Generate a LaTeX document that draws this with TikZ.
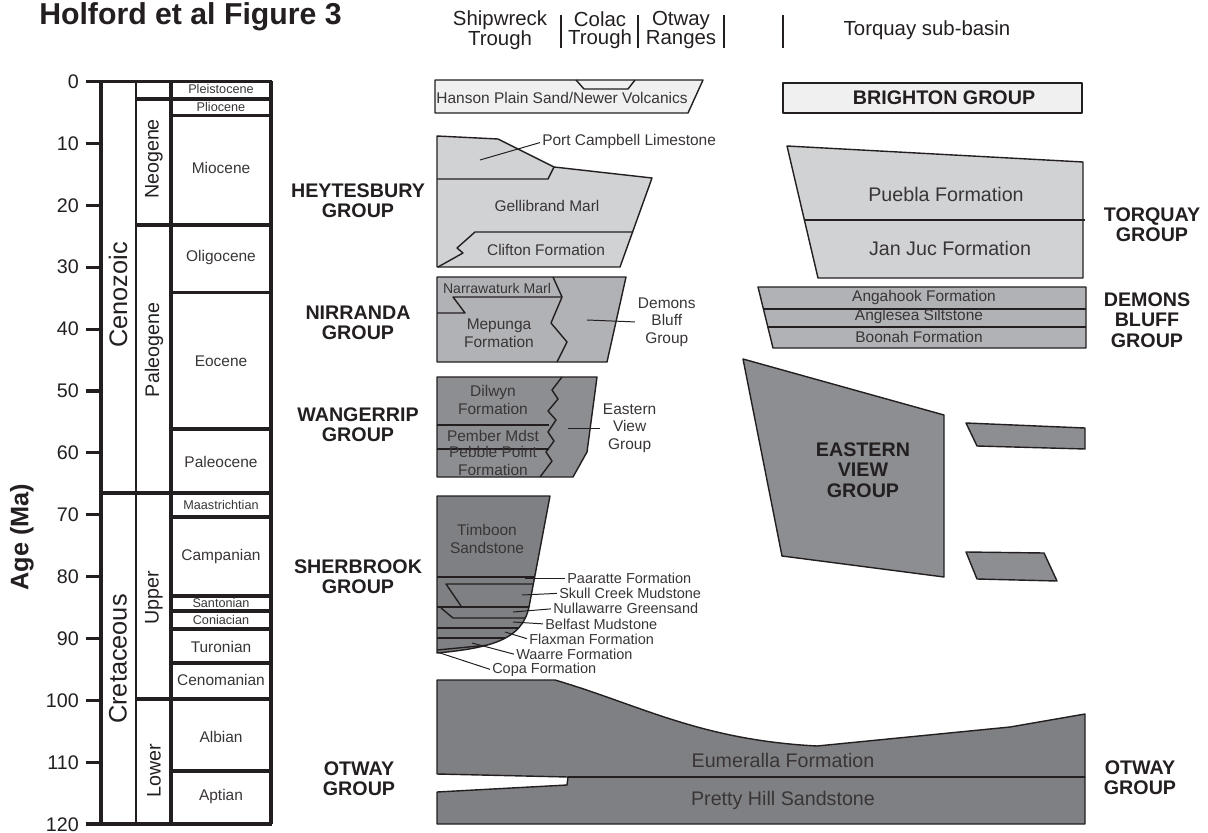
\documentclass[tikz,border=0pt]{standalone}
\usepackage{fontspec}
\setmainfont{Liberation Sans}
\definecolor{inkblack}{RGB}{35, 31, 32}
\definecolor{palegrey}{RGB}{240, 240, 240}
\definecolor{lightgrey}{RGB}{209, 210, 212}
\definecolor{midgrey}{RGB}{177, 178, 181}
\definecolor{darkgrey}{RGB}{141, 142, 145}
\definecolor{deepgrey}{RGB}{127, 128, 131}
\tikzset{
  unit/.style     = {line width=1pt, draw=inkblack, line join=round},
  sep/.style      = {line width=1.6pt, draw=inkblack},
  chart/.style    = {line width=2.2pt, draw=inkblack},
  leader/.style   = {line width=0.7pt, draw=inkblack, shorten >=1.5pt},
  bar/.style      = {line width=0.9pt, draw=inkblack},
  titletext/.style= {font=\bfseries\fontsize{21.5}{23}\selectfont, text=inkblack, inner sep=0pt},
  head/.style     = {font=\fontsize{14.5}{13}\selectfont, text=inkblack, align=center, inner sep=0pt},
  fm/.style       = {font=\fontsize{11}{12.5}\selectfont, text=inkblack!90, align=center, inner sep=0.5pt},
  sidefm/.style   = {font=\fontsize{10.3}{11}\selectfont, text=inkblack!90, anchor=west, inner sep=0pt},
  fmsmall/.style  = {font=\fontsize{9}{10}\selectfont, text=inkblack!90, inner sep=0pt},
  fmbig/.style    = {font=\fontsize{14}{15}\selectfont, text=inkblack!90, inner sep=0pt},
  grp/.style      = {font=\bfseries\fontsize{14}{14.5}\selectfont, text=inkblack, align=center, inner sep=0pt},
  agelbl/.style   = {font=\fontsize{14}{15}\selectfont, text=inkblack, anchor=east, inner sep=0pt},
  era/.style      = {font=\fontsize{18}{20}\selectfont, text=inkblack, rotate=90, inner sep=0pt},
  period/.style   = {font=\fontsize{14}{15}\selectfont, text=inkblack, rotate=90, inner sep=0pt},
  epoch/.style    = {font=\fontsize{11}{12}\selectfont, text=inkblack!90, inner sep=0pt},
}
\begin{document}
\begin{tikzpicture}[x=0.025cm, y=-0.025cm]
\useasboundingbox (0,0) rectangle (1208,833);

\node[titletext, anchor=base west] (title) at (39,25) {Holford et al Figure 3};
\node[head] (shipwreck) at (500,30) {Shipwreck\\Trough};
\node[head] (colac)     at (600,30) {Colac\\Trough};
\node[head] (otwayr)    at (681,30) {Otway\\Ranges};
\node[head] (torquay)   at (927,30) {Torquay sub-basin};
\foreach \x in {561,638,724,783}
  \draw[bar] (\x,15) -- (\x,48);

\draw[line width=3pt, draw=inkblack] (101,81) -- (101,825);
\draw[chart] (86,81.5) -- (272,81.5);
\draw[chart] (86,824) -- (272,824);
\draw[sep]   (136,81) -- (136,824);
\draw[chart] (171,81) -- (171,824);
\draw[chart] (271,81) -- (271,824);
\foreach \a in {10,20,...,110}
  \draw[chart] (86,{81.5+6.19*\a}) -- (101,{81.5+6.19*\a});
\foreach \a in {0,10,...,120}
  \node[agelbl] (age\a) at (79,{81.5+6.19*\a}) {\a};
\foreach \y in {115.5,292.5,429,517,596,611,629,663,771}
  \draw[chart] (171,\y) -- (271,\y);
\foreach \y in {99,225,699}
  \draw[chart] (136,\y) -- (271,\y);
\draw[chart] (101,493) -- (271,493);

\node[era]    (cenozoic)   at (118,295) {Cenozoic};
\node[era]    (cretaceous) at (118,659) {Cretaceous};
\node[period] (neogene)    at (154,159) {Neogene};
\node[period] (paleogene)  at (154,350) {Paleogene};
\node[period] (upper)      at (154,598) {Upper};
\node[period] (lower)      at (154,771) {Lower};
\foreach \y/\t in {89/Pleistocene,107/Pliocene,505/Maastrichtian,603/Santonian,620/Coniacian}
  \node[fmsmall] (ep-\t) at (221,\y) {\t};
\foreach \y/\t in {168/Miocene,258/Oligocene,361/Eocene,462/Paleocene,556/Campanian,647/Turonian,680/Cenomanian,737/Albian,796/Aptian}
  \node[epoch] (ep-\t) at (221,\y) {\t};
\node[font=\bfseries\fontsize{18}{20}\selectfont, text=inkblack, rotate=90, inner sep=0pt] (agetitle) at (22,537) {Age (Ma)};

\node[grp] (heytesbury) at (358,201) {HEYTESBURY\\GROUP};
\node[grp] (nirranda)   at (358,323) {NIRRANDA\\GROUP};
\node[grp] (wangerrip)  at (358,425) {WANGERRIP\\GROUP};
\node[grp] (sherbrook)  at (358,577) {SHERBROOK\\GROUP};
\node[grp] (otwayl)     at (359,779) {OTWAY\\GROUP};
\node[grp] (torquaygrp) at (1152,225) {TORQUAY\\GROUP};
\node[grp] (demonsgrp)  at (1147,320) {DEMONS\\BLUFF\\GROUP};
\node[grp] (otwayr2)    at (1140,778) {OTWAY\\GROUP};

\filldraw[unit, fill=palegrey] (435,80) -- (703,80) -- (688,113) -- (435,113) -- cycle;
\draw[unit] (576,80) -- (584,89) -- (628,89) -- (635,80);
\node[fm] (hanson) at (562,98) {Hanson Plain Sand/Newer Volcanics};

\filldraw[unit, fill=lightgrey] (437,136) -- (498,139) -- (554,167) -- (652,178) -- (620,267) -- (437,267) -- cycle;
\draw[unit] (437,179) -- (548,179) -- (554,167);
\draw[unit] (633,232) -- (475,232) -- (457,248) -- (463,253) -- (438,267);
\coordinate (pcin) at (480,160);
\node[sidefm, font=\fontsize{11}{12}\selectfont] (portcampbell) at (542,142) {Port Campbell Limestone};
\draw[leader] (pcin) -- (portcampbell.west);
\node[fm] (gellibrand) at (547,206) {Gellibrand Marl};
\node[fm] (clifton)    at (546,250) {Clifton Formation};

\filldraw[unit, fill=midgrey] (437,277) -- (626,277) -- (607,362) -- (437,362) -- cycle;
\draw[unit] (553,277) -- (562,297) -- (551,323) -- (567,342) -- (557,362);
\draw[unit] (562,297) -- (453,297) -- (465,313) -- (437,313);
\node[fm, font=\fontsize{10}{11}\selectfont] (narrawaturk) at (497,288) {Narrawaturk Marl};
\node[fm] (mepunga) at (499,333) {Mepunga\\Formation};
\coordinate (dbin) at (587,320);
\node[fm, anchor=west] (demons) at (637,322) {Demons\\Bluff\\Group};
\draw[leader] (dbin) -- (demons.west);

\filldraw[unit, fill=darkgrey] (437,377) -- (597,377) -- (587,452) -- (573,477) -- (437,477) -- cycle;
\draw[unit] (562,377) -- (552,390) -- (558,399) -- (548,411) -- (556,420) -- (548,432) -- (554,441) -- (546,452) -- (552,461) -- (540,477);
\draw[sep] (437,425) -- (549,425);
\draw[sep] (437,449) -- (549,449);
\node[fm] (dilwyn)  at (493,400) {Dilwyn\\Formation};
\node[fm] (pember)  at (493,436) {Pember Mdst};
\node[fm] (pebble)  at (493,461) {Pebble Point\\Formation};
\coordinate (evin) at (568,428);
\node[fm, anchor=west] (easternv) at (602,428) {Eastern\\View\\Group};
\draw[leader] (evin) -- (easternv.west);

\filldraw[unit, fill=deepgrey] (437,496) -- (550,496) -- (529,607) .. controls (522,640) and (490,648) .. (437,653) -- cycle;
\begin{scope}
  \clip (437,496) -- (550,496) -- (529,607) .. controls (522,640) and (490,648) .. (437,653) -- cycle;
  \draw[sep] (437,577) -- (560,577);
  \draw[unit] (461,606) -- (446,584) -- (560,584);
  \draw[sep] (437,607) -- (560,607);
  \draw[unit] (441,608) -- (453,618) -- (560,618);
  \draw[sep] (437,628) -- (560,628);
  \draw[sep] (437,638) -- (560,638);
  \draw[unit] (437,650) -- (500,644);
\end{scope}
\node[fm] (timboon) at (487,539) {Timboon\\Sandstone};
\foreach \n/\t/\tx/\ty/\ix/\iy in {paaratte/Paaratte Formation/567/578/525/578,
                                 skull/Skull Creek Mudstone/559/593.3/522/595,
                                 nulla/Nullawarre Greensand/553/608.7/513/612,
                                 belfast/Belfast Mudstone/545/624/513/622,
                                 flaxman/Flaxman Formation/529/639.3/505/632,
                                 waarre/Waarre Formation/516/654.7/472/643,
                                 copa/Copa Formation/492/670/437/652}{
  \coordinate (\n in) at (\ix,\iy);
  \node[sidefm] (\n) at (\tx,\ty) {\t};
  \draw[leader] (\n in) -- (\n.west);
}

\filldraw[unit, fill=deepgrey] (437,680) -- (555,680) .. controls (640,705) and (700,740) .. (817,746) -- (1010,727) -- (1085,714) -- (1085,777) -- (568,777) -- (437,774) -- cycle;
\filldraw[unit, fill=deepgrey] (437,792) -- (567,785) -- (568,777) -- (1085,777) -- (1085,824) -- (437,824) -- cycle;
\draw[sep] (568,777) -- (1085,777);
\node[fmbig] (eumeralla)  at (783,760) {Eumeralla Formation};
\node[fmbig] (prettyhill) at (783,800) {Pretty Hill Sandstone};

\filldraw[unit, fill=palegrey] (783,83) rectangle (1082,113);
\node[grp] (brighton) at (944,98) {BRIGHTON GROUP};

\filldraw[unit, fill=lightgrey] (787,146) -- (1083,162) -- (1083,278) -- (818,278) -- cycle;
\draw[sep] (804,220) -- (1085,220);
\node[fmbig] (puebla) at (946,194) {Puebla Formation};
\node[fmbig] (janjuc) at (950,248) {Jan Juc Formation};

\filldraw[unit, fill=midgrey] (758,287) -- (1086,287) -- (1086,348) -- (773,348) -- cycle;
\draw[sep] (763,309) -- (1086,309);
\draw[sep] (768,327) -- (1086,327);
\node[fm] (angahook) at (924,298) {Angahook Formation};
\node[fm] (anglesea) at (919,316) {Anglesea Siltstone};
\node[fm] (boonah)   at (919,337) {Boonah Formation};

\filldraw[unit, fill=darkgrey] (743,359) -- (944,415) -- (944,577) -- (782,556) -- cycle;
\filldraw[unit, fill=darkgrey] (966,423) -- (1085,428) -- (1085,449) -- (977,446) -- cycle;
\filldraw[unit, fill=darkgrey] (966,552) -- (1044,553) -- (1057,581) -- (977,579) -- cycle;
\node[grp] (evgroup) at (863,470) {EASTERN\\VIEW\\GROUP};
\end{tikzpicture}
\end{document}
